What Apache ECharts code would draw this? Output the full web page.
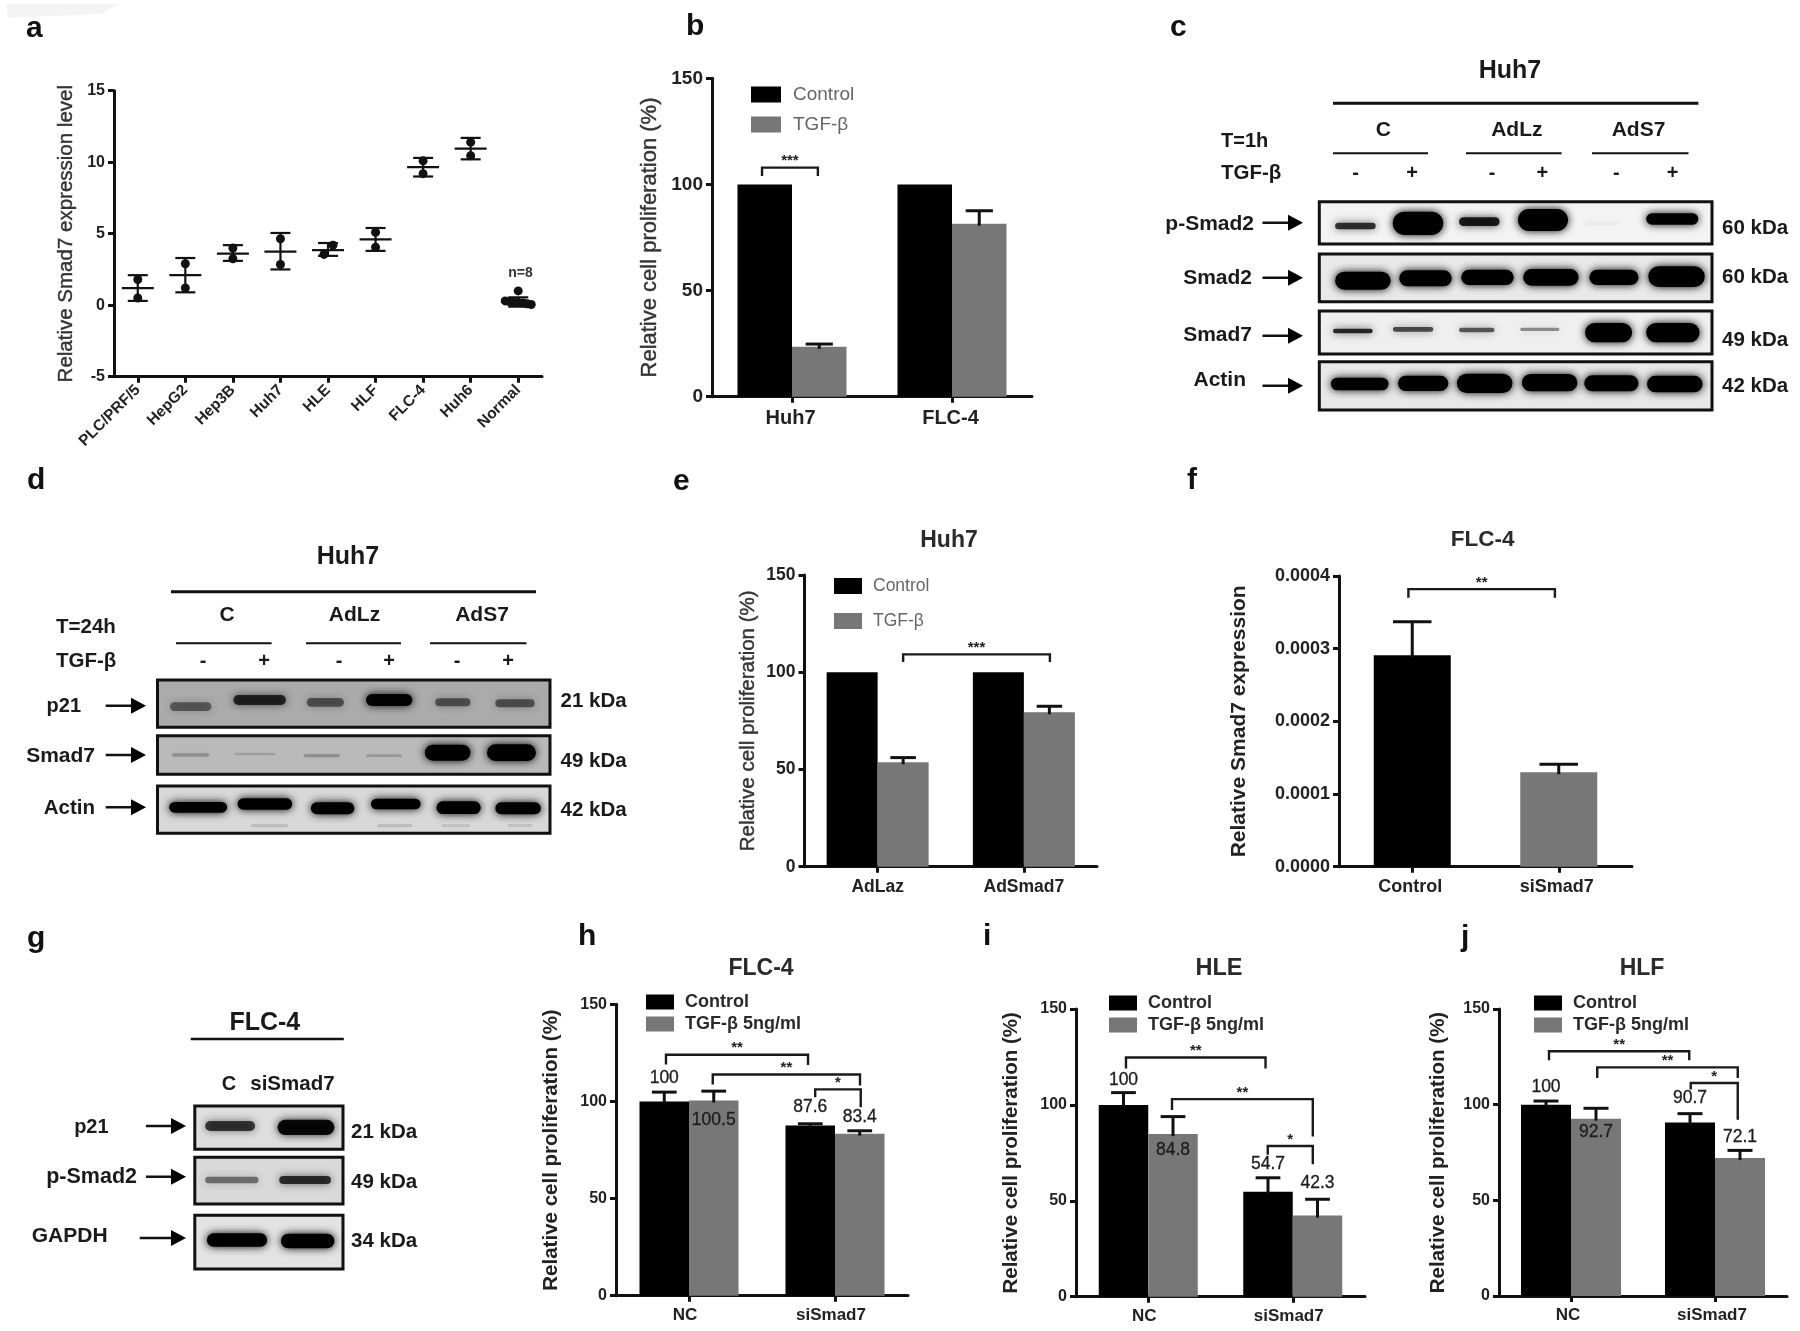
<!DOCTYPE html>
<html><head><meta charset="utf-8">
<style>html,body{margin:0;background:#fff}#c{width:1800px;height:1331px;filter:blur(0.6px)}</style>
<script src="https://cdn.jsdelivr.net/npm/echarts@6/dist/echarts.min.js"></script>
</head><body><div id="c"></div>
<script>
// ---------- panel a ----------
const aCats=['PLC/PRF/5','HepG2','Hep3B','Huh7','HLE','HLF','FLC-4','Huh6','Normal'];
const aMean=[1.2,2.1,3.6,3.75,3.85,4.6,9.65,10.95,0.2];
const aHigh=[2.1,3.3,4.2,5.05,4.35,5.4,10.3,11.7,0.55];
const aLow=[0.3,0.9,3.1,2.5,3.45,3.8,9.0,10.2,-0.1];
const aPointCat=[0,0,1,1,2,2,3,3,4,4,5,5,6,6,7,7,8,8,8,8,8,8,8,8];
const aPointVal=[1.8,0.5,2.9,1.2,4.0,3.25,4.65,2.85,4.2,3.55,5.1,4.05,10.1,9.2,11.4,10.45,1.0,0.3,0.25,0.2,0.2,0.15,0.1,0.05];
const aPointDx=[0,0,0,0,0,0,0,0,5,-4,0,0,0,0,0,0,0,-13,-9,-5,0,5,9,13];
// ---------- panel b ----------
const bCats=['Huh7','FLC-4'];
const bControl=[100,100];
const bTgf=[23.5,81.5];
const bTgfHigh=[24.8,87.6];
const bSig=[[0,-1.1,104,0,0.95,104,107.9,'***']];
// ---------- panel e ----------
const eCats=['AdLaz','AdSmad7'];
const eControl=[100,100];
const eTgf=[53.7,79.4];
const eTgfHigh=[56.1,82.5];
const eSig=[[0,1,105.3,1,1.02,105.3,109.2,'***']];
// ---------- panel f ----------
const fCats=['Control','siSmad7'];
const fValues=[0.000291,0.00013];
const fHigh=[0.000337,0.000141];
const fSig=[[0,-0.1,0.00037,1,-0.1,0.00037,0.000382,'**']];
// ---------- panels h, i, j ----------
const hijCats=['NC','siSmad7'];
const hControl=[100,87.6], hTgf=[100.5,83.4], hControlHigh=[104.8,88.5], hTgfHigh=[105.3,84.9];
const hSig=[[0,-0.93,119,1,-1.09,118.7,124,'**'],[0,0.96,108.7,1,1.01,108.2,113.9,'**'],[1,-0.8,102.2,1,1.04,97,106.2,'*']];
const iControl=[100,54.7], iTgf=[84.8,42.3], iControlHigh=[106.4,62], iTgfHigh=[93.9,50.8];
const iSig=[[0,-0.9,119,1,-1.1,119,124.7,'**'],[0,0.96,97.4,1,0.81,83.5,103,'**'],[1,-1.01,74,1,0.81,69,78.6,'*']];
const jControl=[100,90.7], jTgf=[92.7,72.1], jControlHigh=[101.9,95.3], jTgfHigh=[98.1,76.1];
const jSig=[[0,-0.88,123.2,1,-1.03,123.2,127.9,'**'],[0,1.05,114,1,0.91,114,119.5,'**'],[1,-0.97,107.9,1,0.91,92.1,111.3,'*']];
// ---------- western blot densitometry: [lane start, lane end, migration, band thickness, density] ----------
const cPSmad2=[[480,575,678,20,.75],[615,733,670,70,1],[770,865,665,26,.85],[908,1025,660,66,1],[1065,1145,670,16,.03],[1208,1330,657,34,.98]];
const cSmad2=[[480,610,842,54,1],[630,753,835,48,1],[775,898,832,46,1],[920,1050,832,50,1],[1075,1190,832,46,1],[1213,1345,830,62,1]];
const cSmad7=[[475,568,993,14,.8],[615,710,988,14,.65],[770,853,990,14,.6],[913,1005,988,10,.4],[1065,1175,998,58,1],[1208,1333,998,58,1]];
const cActin=[[470,605,1152,38,1],[627,745,1150,46,1],[765,895,1150,58,1],[917,1047,1148,52,1],[1063,1190,1150,48,1],[1210,1340,1152,50,1]];
const dP21=[[410,510,770,26,.45],[563,690,750,30,.75],[740,830,757,26,.5],[883,995,750,36,.95],[1050,1135,757,24,.5],[1195,1290,760,24,.5]];
const dSmad7=[[415,505,915,10,.22],[565,665,912,8,.14],[733,820,917,10,.22],[883,970,917,8,.18],[1025,1135,908,48,1],[1175,1293,908,50,1]];
const dActin=[[408,548,1072,32,1],[573,705,1062,34,1],[750,855,1075,36,1],[895,1015,1062,32,1],[1053,1160,1073,38,1],[1195,1305,1075,36,1],[605,695,1127,10,.12],[910,995,1127,10,.12],[1065,1135,1127,10,.1],[1225,1285,1127,10,.1]];
const gP21=[[595,740,648,30,.7],[805,970,652,46,.92]];
const gPSmad2=[[595,750,810,20,.45],[810,960,810,24,.75]];
const gGapdh=[[600,775,990,40,1],[815,970,993,44,1]];

const BLACK='#000', GRAY='#777', INK='#222';
const FF='"Liberation Sans",Arial,sans-serif';
const grid=[],xAxis=[],yAxis=[],series=[],legend=[],elements=[];

function addGrid(l,r,t,b,extra){grid.push(Object.assign({left:l,width:r-l,top:t,height:b-t,containLabel:false},extra||{}));return grid.length-1;}
function axisLine(){return {show:true,onZero:false,lineStyle:{color:'#111',width:3}};}
function axisTick(){return {show:true,length:6,alignWithLabel:true,lineStyle:{color:'#111',width:3}};}

function barPanel(c){
  const g=addGrid(c.l,c.r,c.t,c.b);
  xAxis.push({gridIndex:g,type:'category',data:c.cats,axisLine:axisLine(),axisTick:axisTick(),
    axisLabel:{color:INK,fontFamily:FF,fontWeight:'bold',fontSize:c.xFont,margin:c.xMargin,interval:0,padding:[0,c.xPad||0,0,0]}});
  yAxis.push({gridIndex:g,type:'value',min:c.min||0,max:c.max,interval:c.interval,splitLine:{show:false},axisLine:axisLine(),axisTick:axisTick(),
    name:c.yName,nameLocation:'middle',nameRotate:90,nameGap:c.nameGap,
    nameTextStyle:{color:c.nameColor||INK,fontFamily:FF,fontWeight:c.nameWeight||'bold',fontSize:c.nameFont,
      textBorderColor:c.nameWeight==='normal'?'#333':'transparent',textBorderWidth:c.nameWeight==='normal'?0.4:0},
    axisLabel:{color:INK,fontFamily:FF,fontWeight:'bold',fontSize:c.tickFont,margin:9,formatter:c.tickFmt}});
  const half=c.barW/2;
  c.bars.forEach(s=>{
    series.push({type:'bar',name:s.name,xAxisIndex:g,yAxisIndex:g,barWidth:c.barW,barGap:'0%',
      itemStyle:{color:s.color},silent:true,
      data:s.data.map((v,i)=>{
        const it={value:v};
        if(s.colors) it.itemStyle={color:s.colors[i]};
        if(s.labelDy) it.label={show:true,position:'top',distance:0,offset:[0,s.labelDy[i]+9],color:'#1c1c1c',fontFamily:FF,fontSize:c.valFont||17.5,textBorderColor:'#1c1c1c',textBorderWidth:0.3};
        return it;
      })});
  });
  c.errs.forEach(e=>{
    series.push({type:'custom',name:'err',xAxisIndex:g,yAxisIndex:g,silent:true,z:5,clip:false,
      data:e.high.map((h,i)=>[i,e.side,e.mean[i],h]),encode:{x:0,y:3},
      renderItem:(p,api)=>{
        const dx=api.value(1)*half;
        const base=api.coord([api.value(0),api.value(2)]);
        const top=api.coord([api.value(0),api.value(3)]);
        const x=base[0]+dx, cap=c.barW/4;
        const st={stroke:'#111',lineWidth:3,fill:null};
        return {type:'group',children:[
          {type:'line',shape:{x1:x,y1:base[1]+2,x2:x,y2:top[1]},style:st},
          {type:'line',shape:{x1:x-cap,y1:top[1],x2:x+cap,y2:top[1]},style:st}]};
      }});
  });
  series.push({type:'custom',name:'sig',xAxisIndex:g,yAxisIndex:g,silent:true,z:6,clip:false,
    data:c.sig.map(r=>r.slice(0,7)),encode:{x:0,y:6},
    renderItem:(p,api)=>{
      const x1=api.coord([api.value(0),0])[0]+api.value(1)*half;
      const x2=api.coord([api.value(3),0])[0]+api.value(4)*half;
      const y1=api.coord([0,api.value(2)])[1], y2=api.coord([0,api.value(5)])[1], t=api.coord([0,api.value(6)])[1];
      return {type:'group',children:[
        {type:'polyline',shape:{points:[[x1,y1],[x1,t],[x2,t],[x2,y2]]},style:{stroke:'#1a1a1a',lineWidth:2.4,fill:null}},
        {type:'text',style:{text:c.sig[p.dataIndex][7],x:(x1+x2)/2,y:t+1,textAlign:'center',textVerticalAlign:'bottom',font:'bold 15px '+FF,fill:'#222'}}]};
    }});
  if(c.legend) legend.push(Object.assign({orient:'vertical',icon:'rect',selectedMode:false,padding:0,
    textStyle:{color:c.legend.color,fontFamily:FF,fontSize:c.legend.font,fontWeight:c.legend.weight,padding:[0,0,0,c.legend.pad]},
    data:c.legend.names},c.legend.box));
}

function blot(l,r,t,b,zl,zr,zt,zb,bg,bands){
  const g=addGrid(l,r,t,b,{show:true,backgroundColor:bg,borderColor:'#111',borderWidth:3,z:1});
  xAxis.push({gridIndex:g,type:'value',show:false,min:zl,max:zr});
  yAxis.push({gridIndex:g,type:'value',show:false,min:zt,max:zb,inverse:true});
  series.push({type:'custom',name:'band',xAxisIndex:g,yAxisIndex:g,silent:true,clip:true,z:3,
    data:bands,encode:{x:[0,1],y:2},
    renderItem:(p,api)=>{
      const a=api.coord([api.value(0),api.value(2)]), e=api.coord([api.value(1),api.value(2)]);
      const h=api.size([0,api.value(3)])[1], d=api.value(4), w=e[0]-a[0];
      const col='rgba(0,0,0,'+d+')';
      return {type:'rect',shape:{x:a[0],y:a[1]-h/2,width:w,height:h,r:h/2},
        style:{fill:col,shadowBlur:8,shadowColor:col}};
    }});
}

// helpers for annotation text
function txt(t,x,y,size,align,color){elements.push({type:'text',silent:true,z:20,style:{text:t,x:x,y:y,textAlign:align||'center',textVerticalAlign:'middle',font:'bold '+size+'px '+FF,fill:color||'#1a1a1a'}});}
function rule(x1,x2,y,w){elements.push({type:'line',silent:true,z:20,shape:{x1:x1,y1:y,x2:x2,y2:y},style:{stroke:'#111',lineWidth:w||2}});}
function arrow(x1,x2,y){rule(x1,x2-8,y,2.4);elements.push({type:'polygon',silent:true,z:20,shape:{points:[[x2-15,y-8],[x2,y],[x2-15,y+8]]},style:{fill:'#000'}});}

// ---------- panel a ----------
(function(){
  const g=addGrid(114,542,90.7,376.7);
  xAxis.push({gridIndex:g,type:'category',data:aCats,axisLine:axisLine(),axisTick:axisTick(),
    axisLabel:{rotate:45,interval:0,margin:11,color:INK,fontFamily:FF,fontWeight:'bold',fontSize:15.5}});
  yAxis.push({gridIndex:g,type:'value',min:-5,max:15,interval:5,splitLine:{show:false},axisLine:axisLine(),axisTick:axisTick(),
    name:'Relative Smad7 expression level',nameLocation:'middle',nameRotate:90,nameGap:37,
    nameTextStyle:{color:'#333',fontFamily:FF,fontSize:20.5,textBorderColor:'#333',textBorderWidth:0.4},
    axisLabel:{color:INK,fontFamily:FF,fontWeight:'bold',fontSize:16,margin:9}});
  series.push({type:'scatter',name:'points',xAxisIndex:g,yAxisIndex:g,silent:true,symbolSize:9,itemStyle:{color:'#111',opacity:1},
    data:aPointVal.map((v,i)=>({value:[aPointCat[i],v],symbolOffset:[aPointDx[i],0]}))});
  series.push({type:'custom',name:'meanSd',xAxisIndex:g,yAxisIndex:g,silent:true,z:4,
    data:aMean.map((m,i)=>[i,m,aLow[i],aHigh[i]]),encode:{x:0,y:1},
    renderItem:(p,api)=>{
      const c=api.coord([api.value(0),api.value(1)]), lo=api.coord([api.value(0),api.value(2)]), hi=api.coord([api.value(0),api.value(3)]);
      const st={stroke:'#111',lineWidth:2.2,fill:null}, x=c[0];
      return {type:'group',children:[
        {type:'line',shape:{x1:x,y1:lo[1],x2:x,y2:hi[1]},style:st},
        {type:'line',shape:{x1:x-16,y1:c[1],x2:x+16,y2:c[1]},style:st},
        {type:'line',shape:{x1:x-10,y1:lo[1],x2:x+10,y2:lo[1]},style:st},
        {type:'line',shape:{x1:x-10,y1:hi[1],x2:x+10,y2:hi[1]},style:st}]};
    }});
})();

// ---------- bar panels ----------
barPanel({l:712,r:1032,t:78.3,b:396.7,cats:bCats,max:150,interval:50,barW:54.5,xFont:20,xMargin:12,xPad:3,tickFont:19,
  yName:'Relative cell proliferation (%)',nameGap:51,nameFont:22,nameWeight:'normal',nameColor:'#333',
  bars:[{name:'Control',color:BLACK,data:bControl},{name:'TGF-β',color:GRAY,data:bTgf}],
  errs:[{side:1,mean:bTgf,high:bTgfHigh}],sig:bSig,
  legend:{names:['Control','TGF-β'],color:'#666',font:19,weight:'normal',pad:7,box:{left:751,top:85,itemWidth:30,itemHeight:16,itemGap:11}}});
barPanel({l:804.5,r:1097,t:575,b:866.7,cats:eCats,max:150,interval:50,barW:51,xFont:17.5,xMargin:11,tickFont:17.5,
  yName:'Relative cell proliferation (%)',nameGap:46,nameFont:20.5,nameWeight:'normal',nameColor:'#333',
  bars:[{name:'Control',color:BLACK,data:eControl},{name:'TGF-β',color:GRAY,data:eTgf}],
  errs:[{side:1,mean:eTgf,high:eTgfHigh}],sig:eSig,
  legend:{names:['Control','TGF-β'],color:'#666',font:17.5,weight:'normal',pad:6,box:{left:834,top:577,itemWidth:28,itemHeight:16,itemGap:17}}});
barPanel({l:1339,r:1632,t:576,b:866.7,cats:fCats,max:0.0004,interval:0.0001,barW:77,xFont:18,xMargin:11,xPad:4,tickFont:18,tickFmt:v=>v.toFixed(4),
  yName:'Relative Smad7 expression',nameGap:89,nameFont:21,
  bars:[{name:'Smad7',color:BLACK,colors:[BLACK,GRAY],data:fValues}],
  errs:[{side:0,mean:fValues,high:fHigh}],sig:fSig});
const tgf5='TGF-β 5ng/ml';
function smallLegend(left,top){return {names:['Control',tgf5],color:'#2a2a2a',font:18,weight:'bold',pad:6,box:{left:left,top:top,itemWidth:28,itemHeight:15,itemGap:4}};}
barPanel({l:616,r:908,t:1004.3,b:1295.7,cats:hijCats,max:150,interval:50,barW:49.5,xFont:17,xMargin:11,xPad:8,tickFont:16,
  yName:'Relative cell proliferation (%)',nameGap:54,nameFont:20.5,
  bars:[{name:'Control',color:BLACK,data:hControl,labelDy:[-23,-18]},{name:tgf5,color:GRAY,data:hTgf,labelDy:[20,-17]}],
  errs:[{side:-1,mean:hControl,high:hControlHigh},{side:1,mean:hTgf,high:hTgfHigh}],sig:hSig,legend:smallLegend(646,993)});
barPanel({l:1076,r:1365,t:1009,b:1296.7,cats:hijCats,max:150,interval:50,barW:49.5,xFont:17,xMargin:11,xPad:8,tickFont:16,
  yName:'Relative cell proliferation (%)',nameGap:54,nameFont:20.5,
  bars:[{name:'Control',color:BLACK,data:iControl,labelDy:[-25,-28]},{name:tgf5,color:GRAY,data:iTgf,labelDy:[16,-32]}],
  errs:[{side:-1,mean:iControl,high:iControlHigh},{side:1,mean:iTgf,high:iTgfHigh}],sig:iSig,legend:smallLegend(1109,994)});
barPanel({l:1499,r:1787,t:1009,b:1296,cats:hijCats,max:150,interval:50,barW:50,xFont:17,xMargin:11,xPad:6,tickFont:16,
  yName:'Relative cell proliferation (%)',nameGap:50,nameFont:20.5,
  bars:[{name:'Control',color:BLACK,data:jControl,labelDy:[-17,-24]},{name:tgf5,color:GRAY,data:jTgf,labelDy:[14,-21]}],
  errs:[{side:-1,mean:jControl,high:jControlHigh},{side:1,mean:jTgf,high:jTgfHigh}],sig:jSig,legend:smallLegend(1534,994)});

// ---------- blots ----------
blot(1319.3,1712,201.7,244,443,1362,605,732,'#f3f3f3',cPSmad2);
blot(1319.3,1712,254,301.7,443,1362,762,905,'#e9e9e9',cSmad2);
blot(1319.3,1712,311,354,443,1362,933,1062,'#efefef',cSmad7);
blot(1319.3,1712,361.7,410,443,1362,1085,1230,'#e8e8e8',cActin);
blot(157.5,550,680,727.3,380,1327,690,832,'#ababab',dP21);
blot(157.5,550,735.7,774.3,380,1327,857,973,'#bababa',dSmad7);
blot(157.5,550,786,833.3,380,1327,1008,1150,'#d8d8d8',dActin);
blot(194.8,343,1106,1149.3,565,995,588,718,'#dedede',gP21);
blot(194.8,343,1157.3,1204,565,995,742,882,'#d9d9d9',gPSmad2);
blot(194.8,343,1215.3,1269,565,995,916,1077,'#e3e3e3',gGapdh);

// ---------- annotations ----------
elements.push({type:'polygon',silent:true,z:0,shape:{points:[[6,4],[118,4],[102,14],[8,18]]},style:{fill:'#f4f4f4'}});
[['a',26,29],['b',686,27],['c',1170,28],['d',27,481],['e',673,482],['f',1187,481],['g',27,939],['h',578,937],['i',983,937],['j',1461,938]]
  .forEach(p=>txt(p[0],p[1],p[2],30,'left','#111'));
txt('n=8',520.5,273,14,'center','#333');
txt('Huh7',949,541,23,'center','#2a2a2a');
txt('FLC-4',1482.7,540,22.5,'center','#2a2a2a');
txt('FLC-4',761,969,23,'center','#2a2a2a');
txt('HLE',1219,969,23.5,'center','#2a2a2a');
txt('HLF',1642,969,23,'center','#2a2a2a');
// panel c
txt('Huh7',1510,71,25);rule(1333,1698.4,103.3,3);
txt('C',1383.4,130,21);txt('AdLz',1516.8,130,21);txt('AdS7',1638.5,130,21);
rule(1333,1428,153.3);rule(1466,1561.6,153.3);rule(1592,1688.5,153.3);
txt('T=1h',1221,141.7,20,'left');txt('TGF-β',1221,173.3,20.5,'left');
[[1355.6,'-'],[1412,'+'],[1492,'-'],[1542.4,'+'],[1616.3,'-'],[1672.7,'+']].forEach(p=>txt(p[1],p[0],173,20));
txt('p-Smad2',1254,224,21,'right');txt('Smad2',1252,278.7,21,'right');txt('Smad7',1252,335.5,21,'right');txt('Actin',1246,380.5,21,'right');
arrow(1262.5,1303,222.7);arrow(1262.5,1303,277.7);arrow(1262.5,1303,335.7);arrow(1262.5,1303,385.7);
txt('60 kDa',1722,228,20.5,'left');txt('60 kDa',1722,277,20.5,'left');txt('49 kDa',1722,340,20.5,'left');txt('42 kDa',1722,386.7,20.5,'left');
// panel d
txt('Huh7',348,557,25);rule(171,536,591.7,3);
txt('C',227,615,21);txt('AdLz',354.5,615,21);txt('AdS7',482,615,21);
rule(176,271.6,643.3);rule(306,401,643.3);rule(430,526.5,643.3);
txt('T=24h',56,627.5,20.5,'left');txt('TGF-β',56,661,20.5,'left');
[[203,'-'],[264,'+'],[339,'-'],[389,'+'],[457,'-'],[508,'+']].forEach(p=>txt(p[1],p[0],661,20));
txt('p21',81,706.7,20,'right');txt('Smad7',95,756.7,21,'right');txt('Actin',95,808,20.5,'right');
arrow(105.7,146,705.7);arrow(105.7,146,755);arrow(105.7,146,807.3);
txt('21 kDa',560.5,701.7,20.5,'left');txt('49 kDa',560.5,761.7,20.5,'left');txt('42 kDa',560.5,810.7,20.5,'left');
// panel g
txt('FLC-4',264.8,1022.7,25);rule(190.7,343.8,1039,2.4);
txt('C',229,1084,20);txt('siSmad7',292.4,1084,20.5);
txt('p21',108.6,1127.7,20,'right');txt('p-Smad2',137,1176.7,21.5,'right');txt('GAPDH',107.6,1236,21,'right');
arrow(145.9,186,1126);arrow(145.9,186,1176.7);arrow(139.7,186,1238);
txt('21 kDa',351,1132.7,20.5,'left');txt('49 kDa',351,1182.3,20.5,'left');txt('34 kDa',351,1241.7,20.5,'left');

const chart=echarts.init(document.getElementById('c'),null,{renderer:'canvas',width:1800,height:1331});
chart.setOption({animation:false,backgroundColor:'#fff',tooltip:{show:false},grid,xAxis,yAxis,series,legend,graphic:{elements}});
</script></body></html>
